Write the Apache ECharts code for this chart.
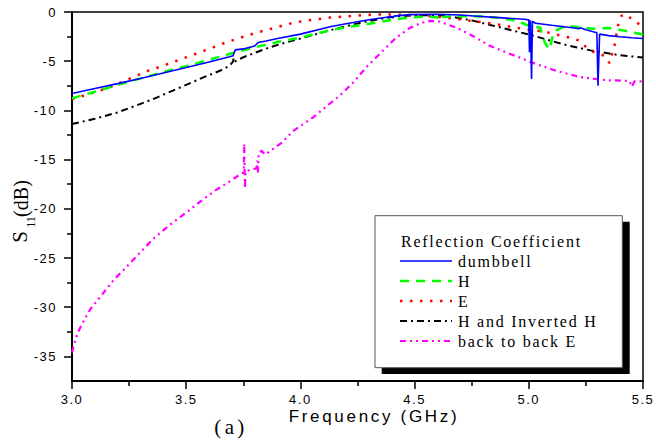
<!DOCTYPE html>
<html>
<head>
<meta charset="utf-8">
<script src="https://cdn.jsdelivr.net/npm/echarts@6.0.0/dist/echarts.min.js"></script>
<style>
html,body{margin:0;padding:0;background:#fff;}
#c{width:656px;height:446px;}
</style>
</head>
<body>
<div id="c"></div>
<script>
// ---- data ----
const seriesNames = ['dumbbell', 'H', 'E', 'H and Inverted H', 'back to back E'];
const xTicks = [3.0, 3.5, 4.0, 4.5, 5.0, 5.5];
const yTicks = [-35, -30, -25, -20, -15, -10, -5, 0];
const yMinorTicks = [-32.5, -27.5, -22.5, -17.5, -12.5, -7.5, -2.5];

const dumbbellF = [3.0,3.1,3.2,3.3,3.4,3.5,3.6,3.69,3.705,3.715,3.75,3.8,3.815,3.85,3.9,4.0,4.13,4.2,4.3,4.4,4.405,4.41,4.48,4.6,4.7,4.76,4.87,4.98,5.0,5.003,5.007,5.012,5.016,5.03,5.1,5.2,5.22,5.225,5.25,5.29,5.298,5.303,5.31,5.35,5.4,5.45,5.5];
const dumbbellDb = [-8.28,-7.78,-7.28,-6.75,-6.2,-5.65,-5.08,-4.55,-4.45,-3.85,-3.75,-3.45,-3.1,-2.95,-2.7,-2.25,-1.5,-1.2,-0.78,-0.45,-0.6,-0.42,-0.27,-0.23,-0.3,-0.4,-0.57,-0.74,-0.8,-4.1,-0.85,-6.8,-0.95,-1.15,-1.35,-1.62,-1.7,-1.6,-1.8,-2.05,-2.1,-7.5,-2.25,-2.4,-2.52,-2.62,-2.7];

const hF = [3.0,3.1,3.2,3.3,3.4,3.5,3.6,3.7,3.8,3.9,4.0,4.13,4.2,4.3,4.4,4.46,4.55,4.6,4.61,4.62,4.7,4.8,4.87,4.95,5.0,5.05,5.07,5.09,5.11,5.16,5.2,5.28,5.35,5.42,5.5];
const hDb = [-8.78,-8.1,-7.4,-6.75,-6.1,-5.5,-4.85,-4.2,-3.6,-3.05,-2.6,-1.85,-1.55,-1.2,-0.8,-0.6,-0.45,-0.55,-0.9,-0.5,-0.42,-0.45,-0.6,-0.9,-1.4,-1.6,-3.1,-3.8,-2.0,-1.4,-1.5,-1.7,-1.62,-1.9,-2.3];

const eF = [3.0,3.08,3.17,3.25,3.33,3.4,3.47,3.56,3.68,3.8,3.84,3.97,4.05,4.13,4.2,4.27,4.35,4.45,4.55,4.61,4.68,4.73,4.8,4.87,4.96,5.0,5.07,5.14,5.19,5.22,5.266,5.3,5.332,5.353,5.375,5.39,5.405,5.427,5.456,5.485,5.5];
const eDb = [-8.85,-8.3,-7.6,-6.8,-6.0,-5.45,-4.86,-4.1,-3.04,-2.15,-1.9,-1.08,-0.8,-0.57,-0.45,-0.32,-0.25,-0.28,-0.38,-0.5,-0.7,-0.84,-1.05,-1.3,-1.65,-1.8,-2.0,-2.4,-2.67,-2.9,-3.9,-4.2,-4.46,-5.2,-3.44,-1.41,-0.4,-0.23,-0.84,-1.25,-1.4];

const hiF = [3.0,3.1,3.2,3.27,3.35,3.42,3.5,3.58,3.65,3.69,3.705,3.708,3.712,3.75,3.84,3.92,4.0,4.13,4.2,4.27,4.35,4.42,4.5,4.6,4.68,4.75,4.82,4.88,4.95,5.02,5.1,5.17,5.27,5.4,5.5];
const hiDb = [-11.39,-10.85,-10.2,-9.6,-8.9,-8.2,-7.4,-6.6,-5.95,-5.45,-5.05,-4.7,-5.05,-4.6,-3.8,-3.2,-2.7,-1.85,-1.45,-1.05,-0.7,-0.45,-0.32,-0.32,-0.55,-0.85,-1.25,-1.6,-2.0,-2.4,-2.95,-3.4,-3.9,-4.4,-4.63];

const bF = [3.0,3.013,3.025,3.049,3.08,3.122,3.18,3.239,3.3,3.356,3.43,3.502,3.56,3.626,3.699,3.742,3.752,3.754,3.757,3.76,3.785,3.808,3.81,3.814,3.818,3.83,3.845,3.87,3.917,3.968,4.056,4.129,4.172,4.23,4.289,4.362,4.42,4.48,4.53,4.57,4.61,4.683,4.755,4.829,4.902,4.96,5.033,5.12,5.222,5.339,5.44,5.452,5.462,5.5];
const bDb = [-34.6,-33.5,-32.6,-31.5,-30.2,-29.0,-27.3,-25.9,-24.4,-23.05,-21.6,-20.35,-19.3,-18.15,-17.1,-16.4,-16.3,-13.4,-17.9,-16.2,-16.0,-15.9,-15.1,-16.3,-14.3,-14.1,-14.5,-14.1,-13.3,-12.1,-10.7,-9.3,-8.5,-7.2,-5.6,-3.9,-2.6,-1.6,-1.1,-0.9,-0.98,-1.59,-2.43,-3.44,-4.12,-4.63,-5.3,-5.98,-6.6,-6.93,-7.0,-7.6,-7.05,-7.06];

// ---- styles ----
const lineStyles = [
  {color: '#0000ff', width: 1.6, type: 'solid'},
  {color: '#00ff00', width: 2.5, type: [9, 7]},
  {color: '#ff0000', width: 2.5, type: [2.5, 7.5]},
  {color: '#000000', width: 2, type: [7, 4, 2, 4]},
  {color: '#ff00ff', width: 2.2, type: [6, 4, 2, 4, 2, 4]}
];
const dataSets = [[dumbbellF, dumbbellDb], [hF, hDb], [eF, eDb], [hiF, hiDb], [bF, bDb]];
const zOrder = [5, 4, 3, 2, 1];

const pairs = (f, v) => f.map((x, i) => [x, v[i]]);
const tickFont = "'Liberation Sans', Arial, zzTick";
const serifLeg = "'Liberation Serif', 'Times New Roman', zzLeg";

const series = seriesNames.map((name, i) => ({
  name: name,
  type: 'line',
  data: pairs(dataSets[i][0], dataSets[i][1]),
  showSymbol: false,
  symbol: 'none',
  z: zOrder[i],
  lineStyle: {color: lineStyles[i].color, width: lineStyles[i].width, type: lineStyles[i].type},
  silent: true,
  animation: false
}));

// legend drawn as a box with shadow
const legX = 375, legY = 215.7, legW = 247.3, legH = 152;
const legendChildren = [
  {type: 'rect', shape: {x: legX + 6.7, y: legY + 6, width: legW + 0.7, height: legH + 0.3}, style: {fill: '#000'}},
  {type: 'rect', shape: {x: legX, y: legY, width: legW, height: legH}, style: {fill: '#fff', stroke: '#555', lineWidth: 1}},
  {type: 'text', style: {text: 'Reflection Coefficient', x: 401, y: 241, font: "16px " + serifLeg, fill: '#000', verticalAlign: 'middle', textAlign: 'left'}}
];
seriesNames.forEach((name, i) => {
  const yy = 261 + i * 20;
  legendChildren.push({type: 'line', shape: {x1: 400, y1: yy, x2: 452, y2: yy},
    style: {stroke: lineStyles[i].color, lineWidth: lineStyles[i].width, lineDash: lineStyles[i].type === 'solid' ? null : lineStyles[i].type}});
  legendChildren.push({type: 'text', style: {text: name, x: 458, y: yy, font: "16px " + serifLeg, fill: '#000', verticalAlign: 'middle', textAlign: 'left'}});
});

const chart = echarts.init(document.getElementById('c'), null, {renderer: 'svg'});
chart.setOption({
  animation: false,
  backgroundColor: '#fff',
  grid: {left: 72, right: 13, top: 12, bottom: 65, show: true, borderColor: '#000', borderWidth: 1.5, backgroundColor: 'transparent'},
  xAxis: {
    type: 'value', min: 3, max: 5.5, interval: 0.5,
    axisLine: {onZero: false, lineStyle: {color: '#000', width: 2}},
    axisTick: {length: 8, lineStyle: {color: '#000', width: 1.5}},
    minorTick: {show: true, splitNumber: 2, length: 5, lineStyle: {color: '#000', width: 1.5}},
    axisLabel: {color: '#000', fontSize: 13, fontFamily: tickFont, margin: 12, formatter: v => v.toFixed(1)},
    splitLine: {show: false}
  },
  yAxis: [{
    type: 'value', min: -37.5, max: 0,
    axisLine: {show: true, lineStyle: {color: '#000', width: 2}},
    axisTick: {show: true, customValues: yTicks, length: 8, lineStyle: {color: '#000', width: 1.5}},
    axisLabel: {customValues: yTicks, color: '#000', fontSize: 13, fontFamily: tickFont, margin: 15, formatter: v => String(v)},
    splitLine: {show: false}
  }, {
    type: 'value', min: -37.5, max: 0, position: 'left',
    axisLine: {show: false},
    axisTick: {show: true, customValues: yMinorTicks, length: 5, lineStyle: {color: '#000', width: 1.5}},
    axisLabel: {show: false},
    splitLine: {show: false}
  }],
  series: series,
  graphic: [
    {type: 'group', z: 100, children: legendChildren},
    {type: 'text', z: 100, style: {text: 'Frequency (GHz)', x: 374, y: 416, font: "17px 'Liberation Sans', Arial, zzFreq", fill: '#000', textAlign: 'center', verticalAlign: 'middle'}},
    {type: 'text', z: 100, style: {text: '(a)', x: 231, y: 427, font: "21px 'Liberation Serif', 'Times New Roman', zzAlbl", fill: '#000', textAlign: 'center', verticalAlign: 'middle'}},
    {type: 'text', z: 100, x: 20, y: 237, rotation: Math.PI / 2, style: {text: 'S', x: 0, y: 0, font: "21px 'Liberation Serif', 'Times New Roman', zzYlbl", fill: '#000', textAlign: 'center', verticalAlign: 'middle'}},
    {type: 'text', z: 100, x: 31, y: 222, rotation: Math.PI / 2, style: {text: '11', x: 0, y: 0, font: "12px 'Liberation Serif', 'Times New Roman', zzYlbl", fill: '#000', textAlign: 'center', verticalAlign: 'middle'}},
    {type: 'text', z: 100, x: 20.5, y: 198.5, rotation: Math.PI / 2, style: {text: '(dB)', x: 0, y: 0, font: "20px 'Liberation Serif', 'Times New Roman', zzYlbl", fill: '#000', textAlign: 'center', verticalAlign: 'middle'}}
  ]
});

// widen letter spacing like the reference (Origin export look)
(function applySpacing() {
  const targets = {'Frequency (GHz)': 168, 'Reflection Coefficient': 179, '(a)': 30, '(dB)': 37};
  const texts = Array.from(document.querySelectorAll('#c text'));
  let legSpacing = 1.3;
  const title = texts.find(t => t.textContent === 'Reflection Coefficient');
  if (title && title.getComputedTextLength) {
    const w = title.getComputedTextLength();
    legSpacing = Math.max(0, (179 - w) / 21);
  }
  texts.forEach(t => {
    const key = (t.getAttribute('style') || '') + ' ' + (t.getAttribute('font-family') || '') + ' ' + getComputedStyle(t).fontFamily;
    const txt = t.textContent;
    let sp = null;
    if (targets[txt] !== undefined && t.getComputedTextLength) {
      const w = t.getComputedTextLength();
      sp = Math.max(0, (targets[txt] - w) / Math.max(1, txt.length - 1));
    } else if (key.indexOf('zzLeg') >= 0) {
      sp = legSpacing;
    } else if (key.indexOf('zzTick') >= 0) {
      sp = 1.5;
    }
    if (sp !== null) t.style.letterSpacing = sp.toFixed(2) + 'px';
  });
})();
</script>
</body>
</html>
